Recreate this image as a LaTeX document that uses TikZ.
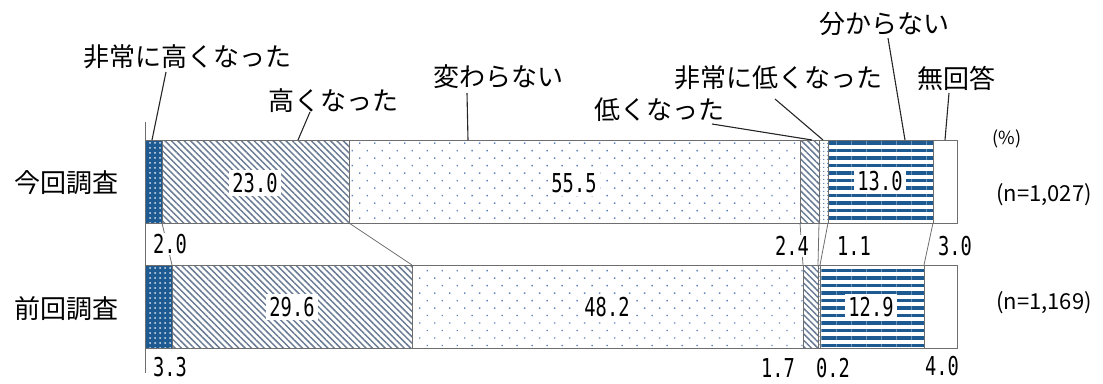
\documentclass[tikz,border=0pt]{standalone}
\usepackage{fontspec}
\setmainfont{Noto Sans CJK JP}
\newfontfamily\numfont[FakeStretch=0.72]{DejaVu Sans Mono}
\usetikzlibrary{patterns.meta}

\definecolor{navy}{HTML}{1D5A92}
\definecolor{hatch}{HTML}{6A7C94}
\definecolor{dotblue}{HTML}{5F82B8}
\definecolor{rim}{HTML}{6E6E6E}

\begin{document}
\begin{tikzpicture}[x=1pt,y=-1pt,
  lab/.style={font=\fontsize{26}{28}\selectfont, inner sep=0pt},
  num/.style={font=\numfont\fontsize{26}{28}\selectfont, fill=white, inner sep=1pt},
  numbox/.style={num, inner sep=3pt},
  seg/.style={draw=rim, line width=0.9pt},
  leader/.style={draw=black!85, line width=1.1pt}]
\useasboundingbox (0,0) rectangle (1103,383);

% Thanh trên: 今回調査
\path[fill=navy, postaction={pattern={Dots[distance=5pt,radius=1pt]}, pattern color=white!85!navy}] (145,140) rectangle (162,223);
\path[pattern={Lines[angle=-45,distance=4.5pt,line width=1.5pt]}, pattern color=hatch] (162,140) rectangle (349,223);
\path[pattern={Dots[distance=10.6pt,angle=45,radius=1pt]}, pattern color=dotblue] (349,140) rectangle (800,223);
\path[pattern={Lines[angle=-45,distance=4.5pt,line width=1.5pt]}, pattern color=hatch] (800,140) rectangle (819,223);
\path[pattern={Dots[distance=4pt,radius=0.8pt]}, pattern color=dotblue] (819,140) rectangle (828,223);
\path[pattern={Lines[angle=0,distance=7.5pt,line width=3.5pt]}, pattern color=navy] (828,140) rectangle (933,223);
\foreach \a/\b in {145/162,162/349,349/800,800/819,819/828,828/933,933/957}
  \draw[seg] (\a,140) rectangle (\b,223);

% Thanh dưới: 前回調査
\path[fill=navy, postaction={pattern={Dots[distance=5pt,radius=1pt]}, pattern color=white!85!navy}] (145,265) rectangle (172,348);
\path[pattern={Lines[angle=-45,distance=4.5pt,line width=1.5pt]}, pattern color=hatch] (172,265) rectangle (412,348);
\path[pattern={Dots[distance=10.6pt,angle=45,radius=1pt]}, pattern color=dotblue] (412,265) rectangle (803,348);
\path[pattern={Lines[angle=-45,distance=4.5pt,line width=1.5pt]}, pattern color=hatch] (803,265) rectangle (818,348);
\path[pattern={Dots[distance=4pt,radius=0.8pt]}, pattern color=dotblue] (818,265) rectangle (820,348);
\path[pattern={Lines[angle=0,distance=7.5pt,line width=3.5pt]}, pattern color=navy] (820,265) rectangle (924,348);
\foreach \a/\b in {145/172,172/412,412/803,803/818,818/820,820/924,924/957}
  \draw[seg] (\a,265) rectangle (\b,348);

% Đường nối giữa hai thanh
\foreach \a/\b in {162/172,349/412,800/803,819/818,828/820,933/924}
  \draw[seg, line width=0.8pt] (\a,223) -- (\b,265);

% Trục
\draw[seg] (145,122) -- (145,373);

% Số liệu trong thanh
\node[numbox] (v23) at (255,183) {23.0};
\node[numbox] (v55) at (574,183) {55.5};
\node[numbox] (v13) at (880,181) {13.0};
\node[numbox] (v29) at (292,307) {29.6};
\node[numbox] (v48) at (607,307) {48.2};
\node[numbox] (v12) at (871,307) {12.9};

% Số liệu dưới thanh
\node[num] (v20) at (170,244) {2.0};
\node[num] (v24) at (792,246) {2.4};
\node[num] (v11) at (854,246) {1.1};
\node[num] (v30) at (955,246) {3.0};
\node[num] (v33) at (170,367) {3.3};
\node[num] (v17) at (778,368) {1.7};
\node[num] (v02) at (833,368) {0.2};
\node[num] (v40) at (942,366) {4.0};

% Nhãn hàng
\node[lab] (now) at (66,183) {今回調査};
\node[lab] (prev) at (66,309) {前回調査};
\node[lab, font=\fontsize{18}{20}\selectfont] (unit) at (1007,139) {(\%)};
\node[lab, font=\fontsize{22}{24}\selectfont] (nnow) at (1044,195) {(n=1,027)};
\node[lab, font=\fontsize{22}{24}\selectfont] (nprev) at (1044,303) {(n=1,169)};

% Nhãn chú thích và đường dẫn
\node[lab] (vhigh) at (187,57) {非常に高くなった};
\node[lab] (high) at (333,101) {高くなった};
\node[lab] (same) at (498,77) {変わらない};
\node[lab] (low) at (659,110) {低くなった};
\node[lab] (vlow) at (778,78) {非常に低くなった};
\node[lab] (unk) at (884,24) {分からない};
\node[lab] (nores) at (956,78) {無回答};

\coordinate (vhigh-a) at (166,72);  \coordinate (vhigh-b) at (152,140);
\coordinate (high-a) at (310,112);  \coordinate (high-b) at (298,140);
\coordinate (same-a) at (467,93);   \coordinate (same-b) at (468,140);
\coordinate (low-a) at (712,124);   \coordinate (low-b) at (812,140);
\coordinate (vlow-a) at (775,99);   \coordinate (vlow-b) at (823,140);
\coordinate (unk-a) at (888,38);    \coordinate (unk-b) at (905,140);
\coordinate (nores-a) at (949,93);  \coordinate (nores-b) at (945,140);

\draw[leader] (vhigh-a) -- (vhigh-b);
\draw[leader] (high-a) -- (high-b);
\draw[leader] (same-a) -- (same-b);
\draw[leader] (low-a) -- (low-b);
\draw[leader] (vlow-a) -- (vlow-b);
\draw[leader] (unk-a) -- (unk-b);
\draw[leader] (nores-a) -- (nores-b);
\end{tikzpicture}
\end{document}
